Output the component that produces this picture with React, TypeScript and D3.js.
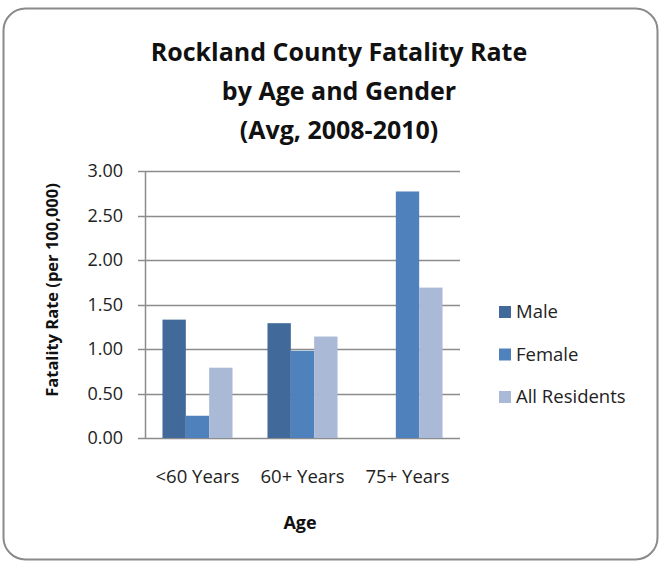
import React, { useEffect, useRef } from 'react'
import * as d3 from 'd3'

const categories = ['<60 Years', '60+ Years', '75+ Years']
const seriesNames = ['Male', 'Female', 'All Residents']
const maleValues = [1.33, 1.29, 0]
const femaleValues = [0.25, 0.98, 2.77]
const allValues = [0.79, 1.14, 1.69]
const yTicks = [0, 0.5, 1, 1.5, 2, 2.5, 3]
const colors = ['#416a9b', '#4f81bd', '#aab9d6']
const titleLines = ['Rockland County Fatality Rate', 'by Age and Gender', '(Avg, 2008-2010)']

const FONT = '"Open Sans", Lato, sans-serif'

export default function App() {
  const svgRef = useRef<SVGSVGElement>(null)

  useEffect(() => {
    document.body.style.margin = '0'
    if (!svgRef.current) return
    const width = 661
    const height = 564
    const svg = d3.select(svgRef.current)
    svg.selectAll('*').remove()

    // outer frame
    svg.append('rect')
      .attr('x', 3.5).attr('y', 8.5)
      .attr('width', 654).attr('height', 551)
      .attr('rx', 22)
      .attr('fill', '#fff')
      .attr('stroke', '#8a8a8a')
      .attr('stroke-width', 2)

    // title
    svg.append('g').selectAll('text')
      .data(titleLines)
      .enter().append('text')
      .attr('x', 339)
      .attr('y', (d, i) => 61 + i * 39)
      .attr('text-anchor', 'middle')
      .attr('font-family', FONT)
      .attr('font-weight', 700)
      .attr('font-size', 25)
      .attr('fill', '#111')
      .text(d => d)

    const plot = { left: 145, right: 460, top: 171, bottom: 438 }

    const y = d3.scaleLinear().domain([0, 3]).range([plot.bottom, plot.top])
    const x0 = d3.scaleBand().domain(categories).range([plot.left, plot.right]).paddingInner(0.333).paddingOuter(0.1665)
    const x1 = d3.scaleBand().domain(seriesNames).range([0, x0.bandwidth()])

    // gridlines
    svg.append('g').selectAll('line')
      .data(yTicks)
      .enter().append('line')
      .attr('x1', plot.left - 7)
      .attr('x2', plot.right)
      .attr('y1', d => Math.round(y(d)) + 0.5)
      .attr('y2', d => Math.round(y(d)) + 0.5)
      .attr('stroke', '#8c8c8c')
      .attr('stroke-width', 1.5)

    // y tick labels
    svg.append('g').selectAll('text')
      .data(yTicks)
      .enter().append('text')
      .attr('x', plot.left - 22)
      .attr('y', d => y(d))
      .attr('dy', '0.35em')
      .attr('text-anchor', 'end')
      .attr('font-family', FONT)
      .attr('font-size', 18)
      .attr('fill', '#222')
      .text(d => d.toFixed(2))

    const series = [maleValues, femaleValues, allValues]
    const rows = categories.flatMap((c, i) => seriesNames.map((s, j) => ({ c, s, j, v: series[j][i] })))

    svg.append('g').selectAll('rect')
      .data(rows.filter(r => r.v > 0))
      .enter().append('rect')
      .attr('x', d => (x0(d.c) || 0) + (x1(d.s) || 0))
      .attr('y', d => y(d.v))
      .attr('width', x1.bandwidth())
      .attr('height', d => y(0) - y(d.v))
      .attr('fill', d => colors[d.j])

    // y axis line
    svg.append('line')
      .attr('x1', plot.left + 0.5).attr('x2', plot.left + 0.5)
      .attr('y1', plot.top).attr('y2', plot.bottom + 1)
      .attr('stroke', '#8c8c8c')
      .attr('stroke-width', 1.5)

    // category labels
    svg.append('g').selectAll('text')
      .data(categories)
      .enter().append('text')
      .attr('x', d => (x0(d) || 0) + x0.bandwidth() / 2)
      .attr('y', 483)
      .attr('text-anchor', 'middle')
      .attr('font-family', FONT)
      .attr('font-size', 18.5)
      .attr('fill', '#222')
      .text(d => d)

    svg.append('text')
      .attr('x', 300).attr('y', 529)
      .attr('text-anchor', 'middle')
      .attr('font-family', FONT)
      .attr('font-weight', 700)
      .attr('font-size', 18)
      .attr('fill', '#111')
      .text('Age')

    svg.append('text')
      .attr('transform', 'translate(52,290) rotate(-90)')
      .attr('dy', '0.35em')
      .attr('text-anchor', 'middle')
      .attr('font-family', FONT)
      .attr('font-weight', 700)
      .attr('font-size', 16.5)
      .attr('fill', '#111')
      .text('Fatality Rate (per 100,000)')

    // legend
    const lg = svg.append('g').selectAll('g')
      .data(seriesNames)
      .enter().append('g')
      .attr('transform', (d, i) => `translate(499,${312 + i * 42.5})`)
    lg.append('rect')
      .attr('x', 0).attr('y', -6)
      .attr('width', 12).attr('height', 12)
      .attr('fill', (d, i) => colors[i])
    lg.append('text')
      .attr('x', 17).attr('y', 0)
      .attr('dy', '0.35em')
      .attr('font-family', FONT)
      .attr('font-size', 18.5)
      .attr('fill', '#222')
      .text(d => d)

    svg.attr('width', width).attr('height', height)
  }, [])

  return <svg ref={svgRef} width={661} height={564} style={{ display: 'block' }}></svg>
}
